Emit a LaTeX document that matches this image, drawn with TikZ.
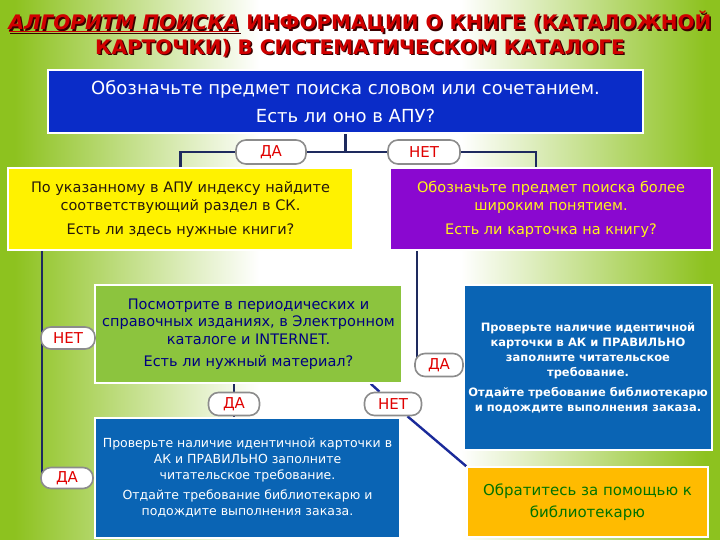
\documentclass[tikz,border=0pt]{standalone}
\usepackage{fontspec}
\setmainfont{DejaVu Sans}
\usetikzlibrary{backgrounds}

\definecolor{leaf}{HTML}{8DC21F}
\definecolor{titlered}{HTML}{D00000}
\definecolor{titleshade}{HTML}{3A0000}
\definecolor{topblue}{HTML}{0A2CC8}
\definecolor{midblue}{HTML}{0A64B4}
\definecolor{violet}{HTML}{8A08D0}
\definecolor{grass}{HTML}{8CC43E}
\definecolor{amber}{HTML}{FFBB00}
\definecolor{navy}{HTML}{1E2A5E}
\definecolor{diagblue}{HTML}{1A2A9A}
\definecolor{pillred}{HTML}{E00000}
\definecolor{pillgray}{HTML}{8C8C8C}

\pgfdeclarehorizontalshading{meadow}{100bp}{color(0bp)=(leaf); color(26bp)=(leaf); color(43bp)=(white); color(57bp)=(white); color(74bp)=(leaf); color(100bp)=(leaf)}

\newcommand\titleA{\underline{\textit{АЛГОРИТМ ПОИСКА}} ИНФОРМАЦИИ О КНИГЕ (КАТАЛОЖНОЙ}
\newcommand\titleB{КАРТОЧКИ) В СИСТЕМАТИЧЕСКОМ КАТАЛОГЕ}

\begin{document}
\begin{tikzpicture}[x=1pt, y=-1pt,
	box/.style={draw=white, line width=1.5pt, inner sep=0pt, align=center},
	pill/.style={draw=pillgray, fill=white, line width=1.6pt, rounded corners=10pt, inner sep=0pt, text=pillred, font=\fontsize{15}{18}\selectfont},
	link/.style={draw=navy, line width=2.4pt},
	heading/.style={font=\fontsize{20}{24}\bfseries\selectfont}]

	\useasboundingbox (0, 0) rectangle (720, 540);
	\begin{pgfonlayer}{background}
		\shade[shading=meadow] (0, 0) rectangle (720, 540);
	\end{pgfonlayer}

	% title
	\node[heading, text=titleshade] (t1s) at (361.5, 23.5) {\titleA};
	\node[heading, text=titlered] (t1) at (360, 22) {\titleA};
	\node[heading, text=titleshade] (t2s) at (361.5, 49.5) {\titleB};
	\node[heading, text=titlered] (t2) at (360, 48) {\titleB};

	% boxes
	\node[box, fill=topblue, text=white, minimum width=595pt, minimum height=63pt, font=\fontsize{18}{21}\selectfont] (search) at (345.5, 101.5)
		{Обозначьте предмет поиска словом или сочетанием.\\[7pt] Есть ли оно в АПУ?};
	\node[box, fill=yellow, text=black!80!brown, minimum width=345pt, minimum height=82pt, font=\fontsize{14.5}{18}\selectfont] (caps) at (180.5, 209)
		{По указанному в АПУ индексу найдите\\ соответствующий раздел в СК.\\[6pt] Есть ли здесь нужные книги?};
	\node[box, fill=violet, text=yellow!90!white, minimum width=322pt, minimum height=82pt, font=\fontsize{14.5}{18}\selectfont] (wider) at (551, 209)
		{Обозначьте предмет поиска более\\ широким понятием.\\[6pt] Есть ли карточка на книгу?};
	\node[box, fill=grass, text=blue!50!black, minimum width=307pt, minimum height=98pt, font=\fontsize{14.5}{17.5}\selectfont] (browse) at (248.5, 334)
		{Посмотрите в периодических и\\ справочных изданиях, в Электронном\\ каталоге и INTERNET.\\[5pt] Есть ли нужный материал?};
	\node[box, fill=midblue, text=white, minimum width=248pt, minimum height=165pt, font=\fontsize{11.5}{15}\bfseries\selectfont] (order1) at (588, 367.5)
		{Проверьте наличие идентичной\\ карточки в АК и ПРАВИЛЬНО\\ заполните читательское\\ требование.\\[5pt] Отдайте требование библиотекарю\\ и подождите выполнения заказа.};
	\node[box, fill=midblue, text=white, minimum width=305pt, minimum height=120pt, font=\fontsize{12.5}{16}\selectfont] (order2) at (247.5, 478)
		{Проверьте наличие идентичной карточки в\\ АК и ПРАВИЛЬНО заполните\\ читательское требование.\\[4pt] Отдайте требование библиотекарю и\\ подождите выполнения заказа.};
	\node[box, fill=amber, text=green!45!black, minimum width=241pt, minimum height=70pt, font=\fontsize{15}{22}\selectfont] (librarian) at (587.5, 502)
		{Обратитесь за помощью к\\ библиотекарю};

	% answers
	\node[pill, minimum width=70pt, minimum height=24pt] (yes1) at (271, 152) {ДА};
	\node[pill, minimum width=72pt, minimum height=24pt] (no1) at (424, 152) {НЕТ};
	\node[pill, minimum width=54pt, minimum height=22pt] (no2) at (68, 338) {НЕТ};
	\node[pill, minimum width=52pt, minimum height=21pt] (yes3) at (67, 478) {ДА};
	\node[pill, minimum width=48pt, minimum height=23pt] (yes2) at (439, 365) {ДА};
	\node[pill, minimum width=51pt, minimum height=23pt] (yes4) at (234, 404) {ДА};
	\node[pill, minimum width=57pt, minimum height=23pt] (no3) at (393, 404) {НЕТ};

	% connectors, behind boxes and answers
	\begin{pgfonlayer}{background}
		\draw[link] (search.south) -- (search.south |- yes1);
		\draw[link] (yes1.west) -| (caps.north);
		\draw[link] (yes1.east) -- (no1.west);
		\draw[link] (no1.east) -| ([xshift=-15pt]wider.north);
		\draw[link] ([xshift=2pt]caps.south -| no2.west) -- ([xshift=2pt]yes3.west);
		\draw[link] ([xshift=3pt]wider.south -| yes2.west) -- ([xshift=3pt]yes2.west);
		\draw[link] (browse.south -| yes4) -- (order2.north -| yes4);
		\draw[link, draw=diagblue] ([xshift=-32pt]browse.south east) -- (no3) -- (librarian.north west);
	\end{pgfonlayer}
\end{tikzpicture}
\end{document}
